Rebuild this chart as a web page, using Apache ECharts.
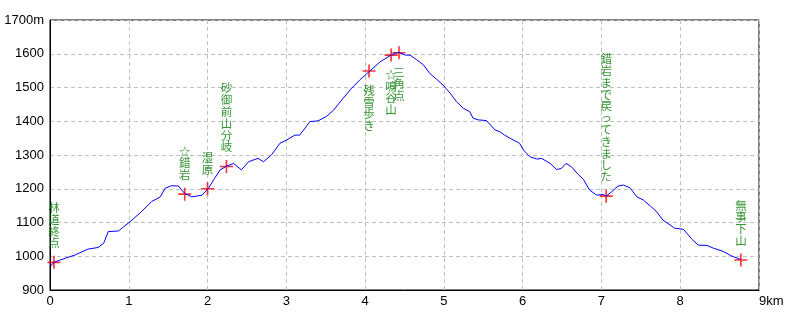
<!DOCTYPE html>
<html>
<head>
<meta charset="utf-8">
<script src="https://cdn.jsdelivr.net/npm/echarts@6/dist/echarts.min.js"></script>
<style>
html,body{margin:0;padding:0;background:#fff;}
#chart{width:800px;height:320px;}
</style>
</head>
<body>
<div id="chart"></div>
<script>
// Profile: distance (km) and elevation (m)
const distKm = [0.00,0.05,0.13,0.32,0.48,0.61,0.68,0.74,0.87,1.04,1.16,1.29,1.40,1.46,1.54,1.63,1.71,1.80,1.93,2.01,2.09,2.16,2.24,2.33,2.43,2.52,2.64,2.71,2.81,2.92,3.00,3.11,3.17,3.30,3.40,3.51,3.60,3.72,3.83,3.93,4.06,4.19,4.21,4.33,4.37,4.43,4.51,4.57,4.65,4.74,4.82,4.91,4.99,5.08,5.16,5.25,5.33,5.37,5.44,5.54,5.65,5.71,5.77,5.86,5.96,6.01,6.09,6.18,6.24,6.35,6.43,6.49,6.55,6.62,6.71,6.77,6.85,6.94,7.02,7.06,7.13,7.21,7.28,7.36,7.45,7.53,7.62,7.70,7.78,7.87,7.93,8.04,8.15,8.23,8.34,8.42,8.55,8.65,8.76,8.77];
const elevM  = [969,982,989,1004,1021,1026,1038,1073,1075,1107,1132,1162,1176,1201,1209,1208,1186,1176,1181,1201,1231,1256,1267,1275,1256,1280,1290,1280,1300,1335,1344,1359,1359,1399,1401,1414,1433,1468,1498,1522,1549,1576,1581,1596,1601,1604,1596,1596,1583,1567,1542,1524,1507,1483,1458,1438,1428,1409,1404,1402,1374,1369,1359,1347,1335,1315,1295,1288,1290,1275,1257,1260,1275,1265,1241,1228,1196,1181,1183,1178,1191,1208,1211,1203,1176,1167,1149,1132,1107,1093,1083,1080,1050,1033,1032,1024,1014,1001,991,989];

// Waypoints
const wpKm    = [0.05, 1.71, 2.00, 2.24, 4.05, 4.33, 4.43, 7.06, 8.77];
const wpElev  = [982, 1184, 1200, 1266, 1549, 1596, 1603, 1178, 989];
const wpNames = ['林道終点','☆錯岩','湿原','砂御前山分岐','残雪歩き','☆鳴谷山','三角点','錯岩まで戻ってきました','無事下山'];
const wpBelow = ['残雪歩き','☆鳴谷山','三角点'];

// Axis ticks
const xTicks = [0,1,2,3,4,5,6,7,8,9];
const yTicks = [900,1000,1100,1200,1300,1400,1500,1600,1700];

const profile = distKm.map((d,i)=>[d, elevM[i]]);
const waypoints = wpKm.map((d,i)=>({
  value:[d, wpElev[i]],
  name: wpNames[i],
  label:{position: wpBelow.includes(wpNames[i]) ? 'bottom' : 'top'}
}));

const chart = echarts.init(document.getElementById('chart'), null, {renderer:'canvas'});
const axisFont = {fontFamily:"'Liberation Sans Narrow','Liberation Sans',sans-serif", fontSize:13, color:'#000'};
chart.setOption({
  backgroundColor:'#fff',
  animation:false,
  grid:{left:50, right:41, top:20, bottom:30, show:true, borderColor:'#000', borderWidth:1, backgroundColor:'transparent'},
  xAxis:{
    type:'value', min:xTicks[0], max:xTicks[xTicks.length-1], interval:1,
    axisLine:{show:true, lineStyle:{color:'#000', width:1}},
    axisTick:{show:false},
    splitLine:{show:true, lineStyle:{color:'#c0c0c0', type:[4,3], width:1}},
    axisLabel:Object.assign({margin:5, alignMaxLabel:'left',
      formatter:v=> v===xTicks[xTicks.length-1] ? v+'km' : String(v)}, axisFont)
  },
  yAxis:{
    type:'value', min:yTicks[0], max:yTicks[yTicks.length-1], interval:100,
    axisLine:{show:true, lineStyle:{color:'#000', width:1}},
    axisTick:{show:false},
    splitLine:{show:true, lineStyle:{color:'#c0c0c0', type:[4,3], width:1}},
    axisLabel:Object.assign({margin:6,
      formatter:v=> v===yTicks[yTicks.length-1] ? v+'m' : String(v)}, axisFont)
  },
  series:[
    {
      type:'scatter',
      data:waypoints,
      symbol:'path://M5.25,0h1.5v5.25h5.25v1.5h-5.25v5.25h-1.5v-5.25h-5.25v-1.5h5.25z',
      symbolSize:13,
      itemStyle:{color:'#ff0000'},
      z:2,
      label:{
        show:true,
        distance:7,
        color:'#007a00',
        fontFamily:"'Noto Sans CJK JP',sans-serif",
        fontSize:11.5,
        lineHeight:11.8,
        formatter:p=>Array.from(p.name).join('\n')
      }
    },
    {
      type:'line',
      data:profile,
      showSymbol:false,
      symbol:'none',
      lineStyle:{color:'#0000ff', width:1},
      z:3
    }
  ]
});
</script>
</body>
</html>
